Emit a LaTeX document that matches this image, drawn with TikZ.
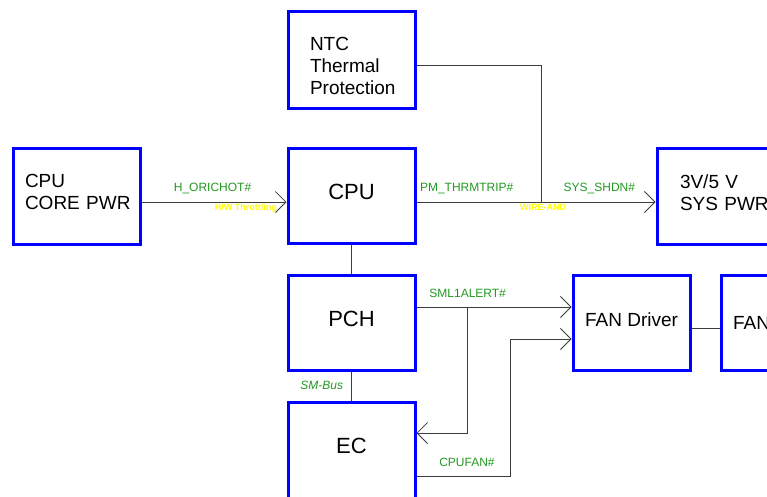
\documentclass[tikz,border=0pt]{standalone}
\usepackage{fontspec}
\setmainfont{Liberation Sans}
\usetikzlibrary{arrows.meta,positioning}
\definecolor{boxblue}{HTML}{0000FF}
\definecolor{sigreen}{HTML}{229922}
\definecolor{noteyellow}{HTML}{FFFF00}
\definecolor{linegray}{HTML}{3C3C3C}
\tikzset{
  block/.style={draw=boxblue, line width=3pt, fill=white, minimum width=127pt, minimum height=96pt, inner ysep=0pt, font=\fontsize{19}{22}\selectfont},
  textblock/.style={block, align=left},
  chip/.style={block, minimum height=95pt, text depth=8pt, font=\fontsize{22}{26}\selectfont},
  wire/.style={draw=linegray, line width=1pt},
  arrow/.style={wire, -{Straight Barb[length=10.5pt, width=21pt, line width=0.8pt]}},
  sig/.style={text=sigreen, font=\fontsize{12}{14}\selectfont, inner sep=0pt, text height=9pt, text depth=2.5pt},
  note/.style={text=noteyellow, font=\bfseries\fontsize{9}{10}\selectfont, inner sep=0pt, text height=6.5pt, text depth=0pt}
}
\begin{document}
\begin{tikzpicture}[x=1pt, y=-1pt]
  \useasboundingbox[fill=white] (0,0) rectangle (767,496);
  \clip (0,0) rectangle (767,496);

  \node[textblock, inner xsep=12pt, text width=103pt, text depth=30pt] (cpupwr) at (76.5,196) {CPU\\CORE~PWR};
  \node[textblock, inner xsep=22pt, text width=83pt, minimum height=97pt, text height=25.6pt] (ntc) at (351.5,59.5) {NTC\\Thermal\\Protection};
  \node[chip] (cpu) at (351.5,196) {CPU};
  \node[chip] (pch) at (351.5,323) {PCH};
  \node[chip, minimum height=96pt] (ec) at (351.5,450) {EC};
  \node[textblock, inner xsep=23pt, text width=81pt, text depth=28pt] (syspwr) at (720.5,196) {3V/5~V\\SYS~PWR};
  \node[block, minimum width=117pt, minimum height=95pt, text depth=6pt] (fandrv) at (631.5,323) {FAN~Driver};
  \node[textblock, minimum width=117pt, minimum height=95pt, inner xsep=12pt, text width=93pt] (fan) at (779.5,323) {FAN};

  \draw[arrow] ([yshift=-6pt]cpupwr.east) -- ([yshift=-6pt]cpu.west)
    node[sig, above=8pt, pos=0.49] {H\_ORICHOT\#}
    node[note, below=1pt, pos=0.72] {H/W Throttling};
  \draw[arrow] ([yshift=-6pt]cpu.east) -- ([yshift=-6pt]syspwr.west)
    node[sig, above=8pt, pos=0.21] {PM\_THRMTRIP\#}
    node[sig, above=8pt, pos=0.765] {SYS\_SHDN\#}
    node[note, below=1pt, pos=0.53] {WIRE-AND}
    coordinate[pos=0.525] (wireand);
  \draw[wire] ([yshift=-5.5pt]ntc.east) -| (wireand);

  \draw[wire] (cpu) -- (pch);
  \draw[wire] (pch) -- (ec)
    node[sig, midway, left=8pt, font=\itshape\fontsize{12}{14}\selectfont] {SM-Bus};

  \draw[arrow] ([yshift=16pt]pch.east) -- ([yshift=16pt]fandrv.west)
    node[sig, above=7pt, pos=0.33] {SML1ALERT\#}
    coordinate[pos=0.33] (alertjoin);
  \draw[arrow] (alertjoin) |- ([yshift=17pt]ec.east);
  \draw[arrow] ([yshift=-26pt]ec.east) -- ++(93.5,0)
    node[sig, above=7pt, pos=0.54] {CPUFAN\#} |- ([yshift=-16pt]fandrv.west);
  \draw[wire] ([yshift=-5pt]fandrv.east) -- ([yshift=-5pt]fan.west);
\end{tikzpicture}
\end{document}
